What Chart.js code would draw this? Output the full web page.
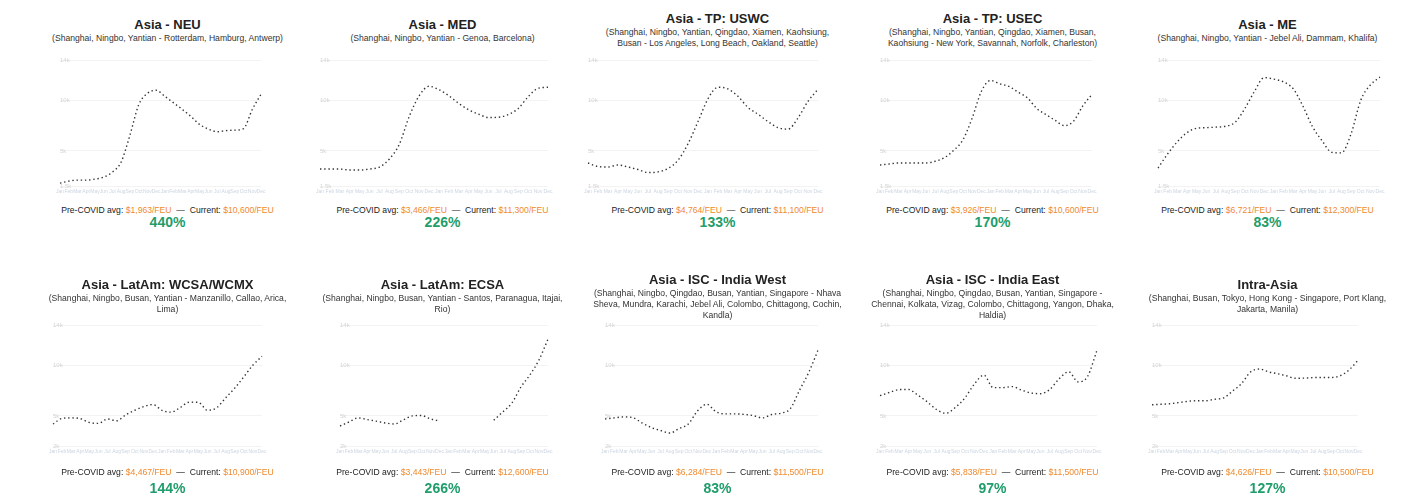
<!DOCTYPE html>
<html><head><meta charset="utf-8">
<script src="https://cdn.jsdelivr.net/npm/chart.js@4.4.1/dist/chart.umd.min.js"></script>
<style>
html,body{margin:0;padding:0;background:#fff;width:1412px;height:503px;overflow:hidden;font-family:"Liberation Sans",Arial,sans-serif;}
.panel{position:absolute;width:275px;height:265px;}
.hdr{position:absolute;left:0;width:275px;display:flex;flex-direction:column;justify-content:center;align-items:center;text-align:center;}
.title{font-size:13px;font-weight:bold;color:#222;line-height:16px;white-space:nowrap;}
.sub{font-size:8.6px;color:#333;line-height:11px;max-width:250px;}
.cv{position:absolute;left:0;width:275px;}
.foot{position:absolute;left:0;width:275px;text-align:center;font-size:8.6px;line-height:10px;white-space:nowrap;color:#222;}
.pct{position:absolute;left:0;width:275px;text-align:center;font-size:14px;line-height:16px;font-weight:bold;color:#1f9d6b;}
.or{color:#ef8a2e;}
</style>
</head><body>
<div id="root"></div>
<script>
// ---- data ----
const months = ['Jan','Feb','Mar','Apr','May','Jun','Jul','Aug','Sep','Oct','Nov','Dec',
                'Jan','Feb','Mar','Apr','May','Jun','Jul','Aug','Sep','Oct','Nov','Dec'];
const titles = ['Asia - NEU','Asia - MED','Asia - TP: USWC','Asia - TP: USEC','Asia - ME',
                'Asia - LatAm: WCSA/WCMX','Asia - LatAm: ECSA','Asia - ISC - India West','Asia - ISC - India East','Intra-Asia'];
const subtitles = [
  '(Shanghai, Ningbo, Yantian - Rotterdam, Hamburg, Antwerp)',
  '(Shanghai, Ningbo, Yantian - Genoa, Barcelona)',
  '(Shanghai, Ningbo, Yantian, Qingdao, Xiamen, Kaohsiung, Busan - Los Angeles, Long Beach, Oakland, Seattle)',
  '(Shanghai, Ningbo, Yantian, Qingdao, Xiamen, Busan, Kaohsiung - New York, Savannah, Norfolk, Charleston)',
  '(Shanghai, Ningbo, Yantian - Jebel Ali, Dammam, Khalifa)',
  '(Shanghai, Ningbo, Busan, Yantian - Manzanillo, Callao, Arica, Lima)',
  '(Shanghai, Ningbo, Busan, Yantian - Santos, Paranagua, Itajai, Rio)',
  '(Shanghai, Ningbo, Qingdao, Busan, Yantian, Singapore - Nhava Sheva, Mundra, Karachi, Jebel Ali, Colombo, Chittagong, Cochin, Kandla)',
  '(Shanghai, Ningbo, Qingdao, Busan, Yantian, Singapore - Chennai, Kolkata, Vizag, Colombo, Chittagong, Yangon, Dhaka, Haldia)',
  '(Shanghai, Busan, Tokyo, Hong Kong - Singapore, Port Klang, Jakarta, Manila)'
];
const neu   = [1800,2000,2100,2100,2200,2400,2900,3900,6550,9540,10700,11000,10400,9750,9100,8400,7600,7150,6900,7000,7050,7200,9100,10600];
const med   = [3200,3200,3200,3100,3100,3200,3400,4200,5650,8400,10450,11400,11060,10460,9700,9060,8640,8300,8330,8600,9200,10360,11200,11300];
const uswc  = [3800,3450,3400,3600,3400,3150,2850,2920,3250,4070,5700,7900,10160,11300,11130,10400,9300,8630,7900,7300,7150,8260,9910,11100];
const usec  = [3600,3700,3800,3800,3800,3800,3970,4330,5060,6100,8250,10900,11970,11640,11380,10800,10240,9200,8600,8020,7500,7940,9450,10600];
const me    = [3300,4700,5900,6800,7240,7300,7350,7440,7830,9200,10900,12260,12110,11830,11160,9460,7400,6000,4850,4800,6680,10000,11530,12300];
const wcsa  = [4200,4750,4800,4730,4350,4260,4690,4520,5100,5560,5930,6120,5550,5370,5830,6360,6340,5560,5800,6790,7750,8870,10030,10900];
const ecsa  = [4000,4400,4800,4640,4480,4300,4200,4600,5000,5040,4700,4500,null,null,null,null,null,4570,5400,6260,7850,9060,10530,12600];
const iscW  = [4700,4800,4900,4830,4300,3850,3560,3300,3750,4200,5500,6150,5400,5200,5200,5150,5030,4800,5140,5270,5700,7530,9300,11500];
const iscE  = [7000,7320,7600,7620,7060,6400,5620,5260,5850,6780,8150,9040,7800,7800,7900,7560,7270,7200,7620,8690,9370,8370,8900,11500];
const intra = [6100,6150,6200,6320,6440,6500,6500,6650,6780,7470,8200,9350,9640,9360,9180,8970,8730,8740,8790,8800,8800,8970,9550,10500];
const series = [neu, med, uswc, usec, me, wcsa, ecsa, iscW, iscE, intra];
const pctChange = [440, 226, 133, 170, 83, 144, 266, 83, 97, 127];
const baseVals  = ['$1,963','$3,466','$4,764','$3,926','$6,721','$4,467','$3,443','$6,284','$5,838','$4,626'];
const nowVals   = ['$10,600','$11,300','$11,100','$10,600','$12,300','$10,900','$12,600','$11,500','$11,500','$10,500'];

// ---- layout (positions only) ----
const COL_X = 30, COL_W = 275;
const rowGeo = [
  {hdrTop:5,   hdrH:50, cvTop:55,  cvH:141.2, footY:210, pctY:222, ymin:1500, ymax:14000},
  {hdrTop:268, hdrH:56, cvTop:320, cvH:136.2, footY:472, pctY:488, ymin:2000, ymax:14000}
];
const lineSpan = [[30,231],[15,243],[8,238],[25,237],[28,250],[23,232],[35,243],[25,238],[25,242],[22,228]];

const root = document.getElementById('root');
series.forEach((vals, i) => {
  const row = Math.floor(i / 5), col = i % 5;
  const g = rowGeo[row];
  const p = document.createElement('div');
  p.className = 'panel';
  p.style.left = (COL_X + col * COL_W) + 'px';
  p.style.top = '0px';
  p.innerHTML =
    `<div class="hdr" style="top:${g.hdrTop}px;height:${g.hdrH}px"><div class="title">${titles[i]}</div><div class="sub">${subtitles[i]}</div></div>` +
    `<div class="cv" style="top:${g.cvTop}px;height:${g.cvH}px"><canvas></canvas></div>` +
    `<div class="foot" style="top:${g.footY - 5}px"><span>Pre-COVID avg: </span><span class="or">${baseVals[i]}/FEU</span>&nbsp;&nbsp;—&nbsp;&nbsp;<span>Current: </span><span class="or">${nowVals[i]}/FEU</span></div>` +
    `<div class="pct" style="top:${g.pctY - 8}px">${pctChange[i]}%</div>`;
  root.appendChild(p);
  const ctx = p.querySelector('canvas');
  const [a, b] = lineSpan[i];
  new Chart(ctx, {
    type: 'line',
    data: { labels: months, datasets: [{
      data: vals, borderColor: '#333', borderWidth: 1.4, borderDash: [1.4, 2.8],
      pointRadius: 0, tension: 0.3, cubicInterpolationMode: 'monotone', spanGaps: false, fill: false
    }]},
    options: {
      responsive: true, maintainAspectRatio: false, animation: false, devicePixelRatio: 1,
      layout: { padding: { left: a, right: COL_W - b, top: 5, bottom: 0 } },
      plugins: { legend: { display: false }, tooltip: { enabled: false } },
      scales: {
        x: { grid: { display: false, drawTicks: false }, border: { display: false },
             ticks: { color: '#cbd5e1', font: { size: 5 }, maxRotation: 0, minRotation: 0, autoSkip: false, padding: 2 } },
        y: { min: g.ymin, max: g.ymax, grid: { color: '#f3f3f3', drawTicks: false }, border: { display: false },
             afterFit: s => { s.width = 0; },
             ticks: { mirror: true, padding: 0, color: '#d4d4d4', font: { size: 6 }, maxTicksLimit: 5,
                      callback: v => (v / 1000) + 'k' } }
      }
    }
  });
});
</script>
</body></html>
